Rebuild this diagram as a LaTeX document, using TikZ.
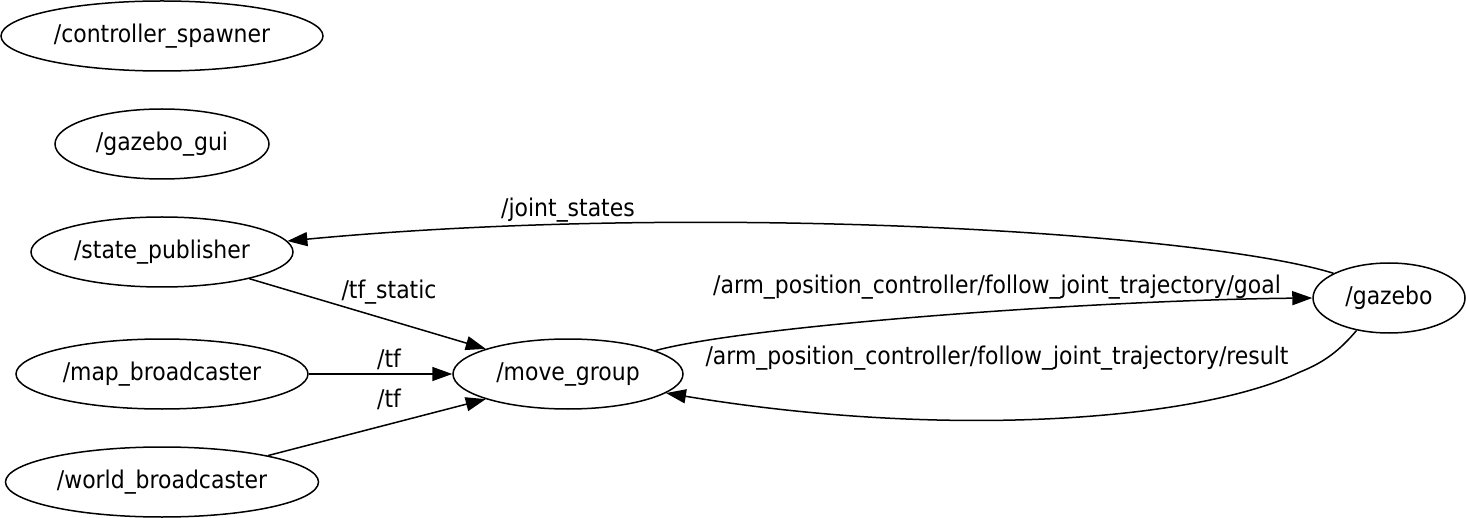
\documentclass[tikz,border=0pt]{standalone}
\usepackage{fontspec}
\setmainfont{DejaVu Sans Condensed}
\usetikzlibrary{shapes.geometric,arrows.meta}
\begin{document}
\begin{tikzpicture}[x=1pt,y=-1pt,
  rosnode/.style={draw,ellipse,line width=1.5pt,inner sep=0pt,font=\fontsize{24.4}{26}\selectfont},
  edge/.style={line width=1.5pt,-{Triangle[length=20pt,width=14pt]}},
  elabel/.style={font=\fontsize{24.4}{26}\selectfont,inner sep=0pt}]
\useasboundingbox (0,0) rectangle (1466,518);
\node[rosnode,minimum width=322pt,minimum height=70pt] (cs) at (162,36) {/controller\_spawner};
\node[rosnode,minimum width=214pt,minimum height=70pt] (gg) at (162,144) {/gazebo\_gui};
\node[rosnode,minimum width=262pt,minimum height=70pt] (sp) at (162,252) {/state\_publisher};
\node[rosnode,minimum width=292pt,minimum height=70pt] (mb) at (162,374) {/map\_broadcaster};
\node[rosnode,minimum width=313pt,minimum height=70pt] (wb) at (162,482) {/world\_broadcaster};
\node[rosnode,minimum width=230pt,minimum height=70pt] (mg) at (568,374) {/move\_group};
\node[rosnode,minimum width=152pt,minimum height=70pt] (gz) at (1389,298) {/gazebo};

\draw[edge] (gz.156) .. controls (1200,232) and (700,202) .. (sp.5);
\draw[edge] (sp.-17) -- (mg.163);
\draw[edge] (mb.east) -- (mg.west);
\draw[edge] (wb.14) -- (mg.197);
\draw[edge] (mg.15) .. controls (750,325) and (1100,300) .. (gz.west);
\draw[edge] (gz.225) .. controls (1340,350) and (1325,362) .. (1300,372)
   .. controls (1200,420) and (950,440) .. (mg.-11);

\node[elabel] (l1) at (568,210) {/joint\_states};
\node[elabel] (l2) at (389,292) {/tf\_static};
\node[elabel] (l3) at (389,359) {/tf};
\node[elabel] (l4) at (389,399) {/tf};
\node[elabel] (l5) at (997,287) {/arm\_position\_controller/follow\_joint\_trajectory/goal};
\node[elabel] (l6) at (997,358) {/arm\_position\_controller/follow\_joint\_trajectory/result};
\end{tikzpicture}
\end{document}
